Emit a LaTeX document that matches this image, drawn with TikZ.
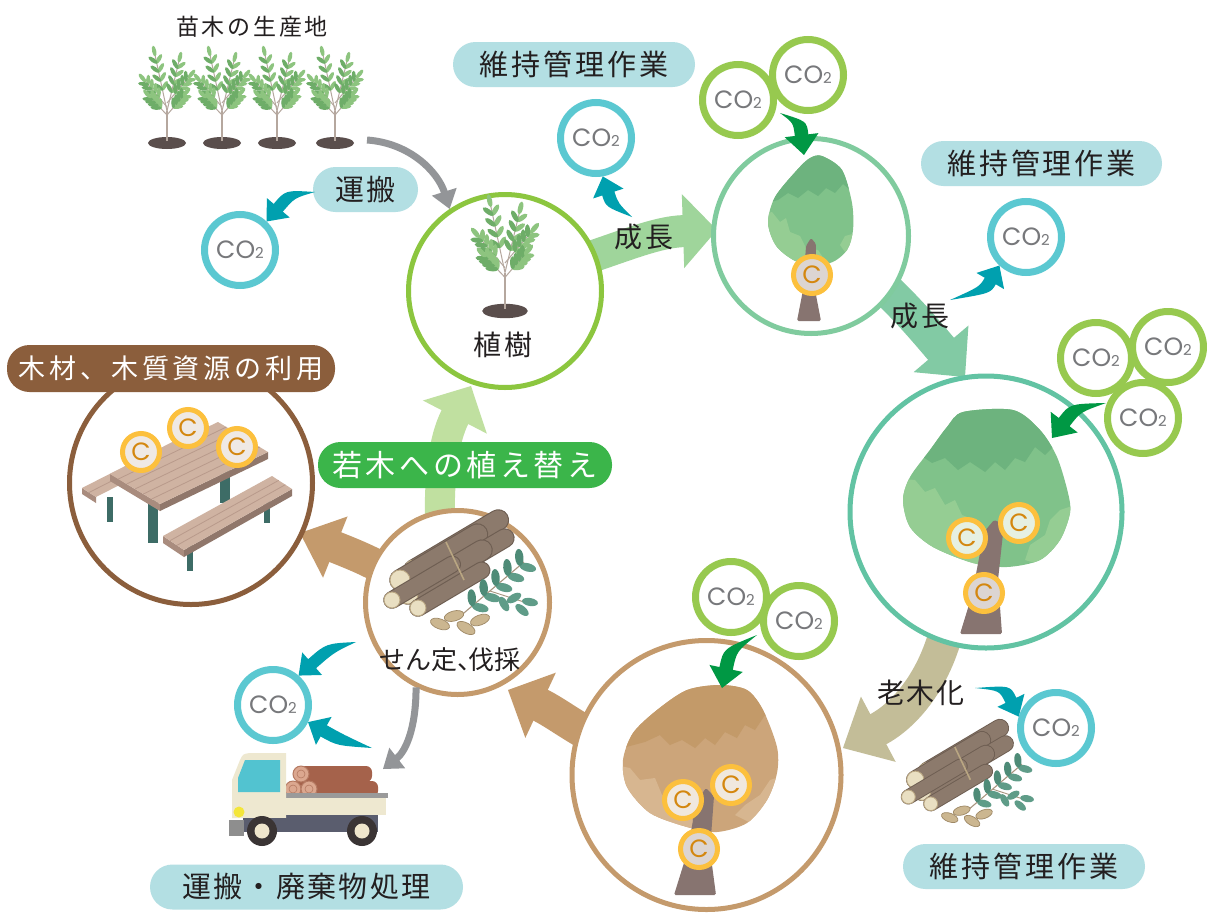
\documentclass[tikz,border=0pt]{standalone}
\usepackage{fontspec}
\newfontfamily\jp{Noto Sans CJK JP}
\newfontfamily\geo{Poppins}
\usetikzlibrary{arrows.meta,calc}

\definecolor{txt}{HTML}{231F20}
\definecolor{co2txt}{HTML}{77787B}
\definecolor{co2teal}{HTML}{5BC8D1}
\definecolor{co2green}{HTML}{97C94F}
\definecolor{arrteal}{HTML}{00A0AF}
\definecolor{arrgreen}{HTML}{009844}
\definecolor{arrgray}{HTML}{939598}
\definecolor{pillblue}{HTML}{B3DFE3}
\definecolor{pillgreen}{HTML}{3BB54A}
\definecolor{pillbrown}{HTML}{8B5E3C}
\definecolor{ringplant}{HTML}{8CC63F}
\definecolor{ringA}{HTML}{80CB9E}
\definecolor{ringB}{HTML}{62C3A3}
\definecolor{ringtan}{HTML}{C49A6C}
\definecolor{ringbench}{HTML}{8B5E3C}
\definecolor{flowA}{HTML}{9FD59B}
\definecolor{flowB}{HTML}{82CAA4}
\definecolor{flowold}{HTML}{C3BD98}
\definecolor{flowtan}{HTML}{C49A6C}
\definecolor{flowyoung}{HTML}{C0E0A0}
\definecolor{badgering}{HTML}{FCC03D}
\definecolor{badgec}{HTML}{D4870F}
\definecolor{trunk}{HTML}{877470}
\definecolor{canbase}{HTML}{80C28A}
\definecolor{cantop}{HTML}{6DB37E}
\definecolor{canlow}{HTML}{95CD93}
\definecolor{browncan}{HTML}{CCA57A}
\definecolor{browntop}{HTML}{C39A69}
\definecolor{brownlow}{HTML}{D7B690}
\definecolor{soil}{HTML}{5A4E4C}
\definecolor{stem}{HTML}{B5A79E}
\definecolor{leafa}{HTML}{8DC47F}
\definecolor{leafb}{HTML}{6EAD68}
\definecolor{bark}{HTML}{8C7A6C}
\definecolor{barkdark}{HTML}{6E5E52}
\definecolor{logend}{HTML}{E9DFC2}
\definecolor{logring}{HTML}{B9A682}
\definecolor{twig}{HTML}{A8957F}
\definecolor{twigleafa}{HTML}{5F9C88}
\definecolor{twigleafb}{HTML}{4E8B77}
\definecolor{nut}{HTML}{CBB690}
\definecolor{nutedge}{HTML}{9E8865}
\definecolor{planktop}{HTML}{CFB3A2}
\definecolor{plankline}{HTML}{B89A8B}
\definecolor{plankside}{HTML}{A98C7E}
\definecolor{leg}{HTML}{3D6C66}
\definecolor{truckcream}{HTML}{EEE8D0}
\definecolor{cabwindow}{HTML}{52C3D0}
\definecolor{slate}{HTML}{5A5D6E}
\definecolor{rail}{HTML}{9A9A9A}
\definecolor{logred}{HTML}{A5624B}
\definecolor{logredend}{HTML}{DBA78F}
\definecolor{logredring}{HTML}{B57A62}
\definecolor{tire}{HTML}{3A3434}
\definecolor{hub}{HTML}{EFE6CC}
\definecolor{headlamp}{HTML}{F4E63A}
\definecolor{bumper}{HTML}{8E8E8E}
\definecolor{onleaf}{HTML}{E6F0E2}
\definecolor{ontrunk}{HTML}{DCD5D2}
\definecolor{onbrown}{HTML}{F0E8DE}
\definecolor{onwood}{HTML}{EFE9E4}

% wide flow arrow: colour, start, control 1, control 2, tip, head length, head width, body width
\newcommand\flowarrow[8]{%
  \coordinate (fl-m) at ($(#5)!#6pt!(#4)$);
  \pgfmathsetmacro\flhw{#7/2}%
  \draw[#1, line width=#8pt, shorten >=-1pt] (#2) .. controls (#3) and (#4) .. (fl-m);
  \fill[#1] ($(fl-m)!\flhw pt!90:(#5)$) -- (#5) -- ($(fl-m)!\flhw pt!-90:(#5)$) -- cycle;
}
% tapered bent arrow: colour, tail, control, tip, head length, head width
\newcommand\puffarrow[6]{%
  \pgfmathsetmacro\pfhw{#6/2}%
  \pgfmathsetmacro\pfbw{#6*0.2}%
  \coordinate (pf-m) at ($(#4)!#5pt!(#3)$);
  \coordinate (pf-h1) at ($(pf-m)!\pfbw pt!90:(#4)$);
  \coordinate (pf-h2) at ($(pf-m)!\pfbw pt!-90:(#4)$);
  \coordinate (pf-w1) at ($(pf-m)!\pfhw pt!90:(#4)$);
  \coordinate (pf-w2) at ($(pf-m)!\pfhw pt!-90:(#4)$);
  \coordinate (pf-c1) at ($(#3)!\pfbw pt!90:(#4)$);
  \coordinate (pf-c2) at ($(#3)!\pfbw pt!-90:(#4)$);
  \fill[#1] (#2) .. controls (pf-c1) .. (pf-h1) -- (pf-w1) -- (#4) -- (pf-w2) -- (pf-h2) .. controls (pf-c2) .. (#2) -- cycle;
}

\newcommand\cotwo{CO{\fontsize{15}{15}\selectfont 2}}

\tikzset{
  ring/.style={circle, draw=#1, line width=5pt, fill=white, inner sep=0pt},
  co2/.style={circle, draw=#1, line width=7pt, fill=white, minimum size=71pt, inner sep=0pt,
    text=co2txt, font=\geo\fontsize{25}{25}\selectfont},
  badge/.style={circle, draw=badgering, line width=5pt, fill=#1, minimum size=37pt, inner sep=0pt,
    text=badgec, font=\geo\fontsize{25}{25}\selectfont},
  pill/.style={rounded corners=22.5pt, fill=#1, minimum height=45pt, inner sep=0pt, text=txt},
  lbl/.style={inner sep=0pt, text=txt},
  seedling/.pic={
    \fill[soil] (0,0) ellipse (19 and 6);
    \draw[stem, line width=1.8pt] (0,-2) -- (0,-32);
    \foreach \bx/\by/\tx/\ty in {0/-32/-12/-88, 0/-32/12/-82, 0/-36/-22/-62, 0/-40/22/-66, 0/-28/-17/-46, 0/-28/17/-48}{
      \draw[stem, line width=1pt] (\bx,\by) -- (\tx,\ty);
      \pgfmathsetmacro\ang{atan2(\ty-\by,\tx-\bx)}
      \foreach \pos in {0.38,0.54,0.7,0.86}{
        \foreach \sd/\col in {1/leafa,-1/leafb}{
          \pgfmathsetmacro\lang{\ang+\sd*42}
          \pgfmathsetmacro\qx{\bx+\pos*(\tx-\bx)+4.5*cos(\lang)}
          \pgfmathsetmacro\qy{\by+\pos*(\ty-\by)+4.5*sin(\lang)}
          \fill[\col, rotate around={-\lang:(\qx,\qy)}] (\qx,\qy) ellipse (5.5 and 2.1);
        }
      }
      \pgfmathsetmacro\qx{\tx+4*cos(\ang)}
      \pgfmathsetmacro\qy{\ty+4*sin(\ang)}
      \fill[leafa, rotate around={-\ang:(\qx,\qy)}] (\qx,\qy) ellipse (5.5 and 2.1);
    }
  },
  woodpile/.pic={
    \pgfmathsetmacro\wsc{#1}
    \foreach \lx/\ly/\rr/\llen in {-38/-8/10/98, -52/2/10/90, -28/8/9/94, -44/16/10/86, -60/22/8/70, -34/30/8/74}{
      \draw[barkdark, line cap=round, line width={(2*\rr+1.6)*\wsc}] (\lx,\ly) -- ++({0.86*\llen},{-0.51*\llen});
      \draw[bark, line cap=round, line width={(2*\rr-0.6)*\wsc}] (\lx,\ly) -- ++({0.86*\llen},{-0.51*\llen});
      \filldraw[fill=logend, draw=logring, line width=0.9pt] (\lx,\ly) circle (\rr);
    }
    \draw[logring, line width=1.6pt] (-6,-36) -- (12,2);
    \draw[twig, line width=1.1pt] (6,40) -- (72,-16);
    \draw[twig, line width=0.9pt] (38,13) -- (72,24);
    \foreach \pos in {0.22,0.4,0.58,0.76,0.94}{
      \foreach \sd/\col in {1/twigleafa,-1/twigleafb}{
        \pgfmathsetmacro\lang{-40.3+\sd*55}
        \pgfmathsetmacro\qx{6+\pos*66+8*cos(\lang)}
        \pgfmathsetmacro\qy{40-\pos*56+8*sin(\lang)}
        \fill[\col, rotate around={-\lang:(\qx,\qy)}] (\qx,\qy) ellipse (8.5 and 4.2);
      }
    }
    \foreach \qx/\qy/\lang in {52/26/60, 62/20/-30, 70/32/40, 78/24/10}{
      \fill[twigleafa, rotate around={-\lang:(\qx,\qy)}] (\qx,\qy) ellipse (8 and 4);
    }
    \foreach \nx/\ny/\na in {-12/46/-20, 2/38/15, 14/50/-30, 28/42/20}{
      \filldraw[fill=nut, draw=nutedge, line width=0.7pt, rotate around={\na:(\nx,\ny)}] (\nx,\ny) ellipse (10 and 5);
    }
  }
}

\begin{document}
\begin{tikzpicture}[x=1pt,y=-1pt]
\useasboundingbox (0,0) rectangle (1207,913);
\fill[white] (0,0) rectangle (1207,913);

% ---------- wide flow arrows of the cycle ----------
\coordinate (fA1) at (575,262); \coordinate (fA2) at (620,248);
\coordinate (fA3) at (655,232); \coordinate (fA4) at (717,230);
\flowarrow{flowA}{fA1}{fA2}{fA3}{fA4}{34}{74}{32}
\coordinate (fB1) at (870,275); \coordinate (fB2) at (900,300);
\coordinate (fB3) at (925,330); \coordinate (fB4) at (965,377);
\flowarrow{flowB}{fB1}{fB2}{fB3}{fB4}{37}{72}{34}
\coordinate (fC1) at (948,625); \coordinate (fC2) at (935,680);
\coordinate (fC3) at (905,715); \coordinate (fC4) at (843,748);
\flowarrow{flowold}{fC1}{fC2}{fC3}{fC4}{40}{74}{34}
\coordinate (fD1) at (600,740); \coordinate (fD2) at (575,728);
\coordinate (fD3) at (555,712); \coordinate (fD4) at (508,690);
\flowarrow{flowtan}{fD1}{fD2}{fD3}{fD4}{36}{72}{34}
\coordinate (fE1) at (385,570); \coordinate (fE2) at (368,560);
\coordinate (fE3) at (350,553); \coordinate (fE4) at (300,533);
\flowarrow{flowtan}{fE1}{fE2}{fE3}{fE4}{38}{66}{32}
\coordinate (fF1) at (440,520); \coordinate (fF2) at (439,480);
\coordinate (fF3) at (443,440); \coordinate (fF4) at (471,386);
\flowarrow{flowyoung}{fF1}{fF2}{fF3}{fF4}{35}{72}{30}

% ---------- stage circles ----------
\node[ring=ringplant, minimum size=193pt] (plant) at (505,291) {};
\node[ring=ringA, minimum size=195pt] (t1) at (811,236) {};
\node[ring=ringB, minimum size=272pt] (t2) at (986,512) {};
\node[ring=ringtan, minimum size=269pt] (t3) at (706.5,775) {};
\node[ring=ringtan, minimum size=184pt] (sentei) at (457.5,602.5) {};
\node[ring=ringbench, minimum size=243pt] (bench) at (191,483) {};

% ---------- seedlings ----------
\pic at (167,143) {seedling};
\pic at (222,143) {seedling};
\pic at (277,143) {seedling};
\pic at (335,143) {seedling};
\pic[scale=1.2] at (505,311) {seedling};

% ---------- young tree ----------
\begin{scope}
  \clip plot[smooth cycle] coordinates {(822,156) (842,170) (852,203) (853,230) (847,250) (830,263) (800,263) (777,247) (768,223) (775,197) (797,170) (810,158)};
  \fill[canbase] (760,150) rectangle (860,270);
  \fill[cantop] (760,150) -- (860,150) -- (860,186) -- (850,190) -- (843,184) -- (835,193) -- (826,188) -- (818,196) -- (808,190) -- (798,198) -- (788,193) -- (778,200) -- (760,205) -- cycle;
  \fill[canlow] (760,215) -- (772,212) -- (780,222) -- (786,218) -- (790,232) -- (800,236) -- (806,248) -- (818,250) -- (826,262) -- (835,268) -- (760,270) -- cycle;
  \fill[canlow] (860,232) -- (845,236) -- (840,245) -- (845,252) -- (860,258) -- cycle;
\end{scope}
\fill[trunk, rounded corners=1.5pt] (797,321) -- (803,290) -- (806,246) -- (811,238) -- (816,244) -- (815,290) -- (821,321) -- cycle;
\node[badge=ontrunk] (c1a) at (812,275) {C};

% ---------- grown tree ----------
\begin{scope}
  \clip plot[smooth cycle] coordinates {(963,412) (1013,410) (1040,430) (1057,457) (1068,493) (1070,513) (1060,540) (1040,560) (1007,567) (973,563) (933,547) (910,527) (903,500) (910,477) (930,450) (947,427)};
  \fill[canbase] (895,400) rectangle (1075,575);
  \fill[cantop] (895,400) -- (1075,400) -- (1075,452) -- (1062,455) -- (1055,445) -- (1045,455) -- (1035,447) -- (1025,462) -- (1015,458) -- (1005,470) -- (995,462) -- (985,472) -- (970,462) -- (958,470) -- (945,458) -- (932,463) -- (920,455) -- (895,470) -- cycle;
  \fill[canlow] (895,478) -- (915,480) -- (925,492) -- (935,488) -- (945,505) -- (955,500) -- (962,515) -- (975,520) -- (985,540) -- (990,575) -- (895,575) -- cycle;
  \fill[canlow] (1075,505) -- (1060,510) -- (1050,520) -- (1045,535) -- (1030,545) -- (1025,560) -- (1075,575) -- cycle;
\end{scope}
\fill[trunk, rounded corners=1.5pt] (960,634) -- (972,595) -- (984,532) -- (994,520) -- (1004,524) -- (998,580) -- (1002,634) -- cycle;
\node[badge=onleaf] (c2a) at (967,538) {C};
\node[badge=onleaf] (c2b) at (1019,523) {C};
\node[badge=ontrunk] (c2c) at (984,593) {C};

% ---------- old tree ----------
\begin{scope}
  \clip plot[smooth cycle] coordinates {(720,685) (747,690) (763,710) (777,747) (777,773) (767,800) (747,823) (717,832) (687,827) (650,813) (627,787) (623,760) (633,733) (657,710) (687,690)};
  \fill[browncan] (615,675) rectangle (785,840);
  \fill[browntop] (615,675) -- (785,675) -- (785,718) -- (772,722) -- (765,715) -- (755,730) -- (745,725) -- (737,738) -- (725,732) -- (715,745) -- (705,738) -- (695,748) -- (682,740) -- (670,745) -- (660,735) -- (645,742) -- (615,750) -- cycle;
  \fill[brownlow] (615,765) -- (630,768) -- (640,780) -- (655,778) -- (662,795) -- (675,800) -- (685,810) -- (700,830) -- (615,840) -- cycle;
  \fill[brownlow] (785,775) -- (770,780) -- (760,795) -- (745,805) -- (735,815) -- (785,840) -- cycle;
\end{scope}
\fill[trunk, rounded corners=1.5pt] (674,895) -- (688,850) -- (696,802) -- (706,788) -- (714,796) -- (710,850) -- (716,895) -- cycle;
\node[badge=onbrown] (c3a) at (683,800) {C};
\node[badge=onbrown] (c3b) at (731,785) {C};
\node[badge=ontrunk] (c3c) at (699,849) {C};

% ---------- pruned wood piles ----------
\pic at (452,578) {woodpile=1};
\pic[scale=0.86] at (960,778) {woodpile=0.86};

% ---------- picnic table ----------
\fill[leg] (107,497) rectangle (113,522);
\fill[plankside] (82,488) -- (96,497) -- (96,503) -- (82,494) -- cycle;
\fill[planktop] (82,488) -- (190,433) -- (204,442) -- (96,497) -- cycle;
\draw[plankline, line width=0.8pt] (89,492.5) -- (197,437.5);
\fill[leg] (220,460) rectangle (230,503);
\fill[leg] (148,500) rectangle (158,543);
\fill[plankside] (110,474) -- (160,504) -- (160,511) -- (110,481) -- cycle;
\fill[plankside!85!black] (160,504) -- (268,452) -- (268,459) -- (160,511) -- cycle;
\fill[planktop] (110,474) -- (218,422) -- (268,452) -- (160,504) -- cycle;
\foreach \k in {1,...,5}{
  \draw[plankline, line width=0.8pt] ($(110,474)!\k/6!(160,504)$) -- ($(218,422)!\k/6!(268,452)$);
}
\fill[leg] (187,545) rectangle (193,571);
\fill[leg] (264,488) rectangle (270,523);
\fill[plankside] (163,536) -- (184,550) -- (184,557) -- (163,543) -- cycle;
\fill[plankside!85!black] (184,550) -- (292,489) -- (292,496) -- (184,557) -- cycle;
\fill[planktop] (163,536) -- (272,476) -- (292,489) -- (184,550) -- cycle;
\foreach \k in {1,2}{
  \draw[plankline, line width=0.8pt] ($(163,536)!\k/3!(184,550)$) -- ($(272,476)!\k/3!(292,489)$);
}
\node[badge=onwood] (cw1) at (141,452) {C};
\node[badge=onwood] (cw2) at (188,428) {C};
\node[badge=onwood] (cw3) at (237,447) {C};

% ---------- truck ----------
\fill[logred, rounded corners=6pt] (298,766) rectangle (372,782);
\fill[logred, rounded corners=6pt] (288,781) rectangle (378,797);
\foreach \ex/\ey in {301/774, 293/789, 309/789}{
  \filldraw[fill=logredend, draw=logredring, line width=1pt] (\ex,\ey) circle (8);
  \draw[logredring, line width=0.6pt] (\ex,\ey) circle (4);
}
\fill[truckcream] (283,797) rectangle (386,815);
\fill[rail] (283,793) rectangle (388,798);
\fill[slate] (283,815) rectangle (378,832);
\fill[truckcream] (232,818) -- (232,780) -- (240,760) .. controls (243,754) .. (250,753) -- (286,753) -- (286,818) -- cycle;
\fill[cabwindow] (245,760) -- (280,760) -- (280,792) -- (238,792) -- (238,778) -- cycle;
\fill[slate] (243,818) rectangle (286,832);
\fill[headlamp] (239,812) circle (5.5);
\fill[bumper] (229,820) rectangle (244,836);
\foreach \wx in {262,362}{
  \fill[tire] (\wx,831) circle (15);
  \fill[hub] (\wx,831) circle (7.5);
}

% ---------- CO2 circles ----------
\node[co2=co2teal] (co2A) at (240,250) {\cotwo};
\node[co2=co2teal] (co2B) at (596,138) {\cotwo};
\node[co2=co2teal] (co2C) at (1026,237) {\cotwo};
\node[co2=co2teal] (co2D) at (1056,728) {\cotwo};
\node[co2=co2teal] (co2E) at (273,705) {\cotwo};
\node[co2=co2green] (g1) at (738,100) {\cotwo};
\node[co2=co2green] (g2) at (808,75) {\cotwo};
\node[co2=co2green] (g3) at (1096,358) {\cotwo};
\node[co2=co2green] (g4) at (1168,347) {\cotwo};
\node[co2=co2green] (g5) at (1143,418) {\cotwo};
\node[co2=co2green] (g6) at (731,597) {\cotwo};
\node[co2=co2green] (g7) at (799,621) {\cotwo};

% ---------- labels in pills ----------
\node[pill=pillblue, minimum width=105pt, font=\jp\fontsize{29}{29}\selectfont\addfontfeature{LetterSpace=10}] (unpan) at (365.5,189.5) {運搬};
\node[pill=pillblue, minimum width=242pt, font=\jp\fontsize{29}{29}\selectfont\addfontfeature{LetterSpace=10}] (ijiA) at (574,64.5) {維持管理作業};
\node[pill=pillblue, minimum width=241pt, font=\jp\fontsize{29}{29}\selectfont\addfontfeature{LetterSpace=10}] (ijiB) at (1041.5,163.5) {維持管理作業};
\node[pill=pillblue, minimum width=242pt, font=\jp\fontsize{29}{29}\selectfont\addfontfeature{LetterSpace=10}] (ijiC) at (1024,866.5) {維持管理作業};
\node[pill=pillblue, minimum width=313pt, font=\jp\fontsize{29}{29}\selectfont\addfontfeature{LetterSpace=8}] (haiki) at (306.5,887) {運搬・廃棄物処理};
\node[pill=pillgreen, minimum width=294pt, minimum height=46pt, text=white, font=\jp\fontsize{30}{30}\selectfont\addfontfeature{LetterSpace=12}] (wakagi) at (465,465) {若木への植え替え};
\node[pill=pillbrown, minimum width=328pt, minimum height=47pt, text=white, font=\jp\fontsize{27}{27}\selectfont\addfontfeature{LetterSpace=14}] (mokuzai) at (171,368.5) {木材、木質資源の利用};

% ---------- small arrows ----------
\coordinate (tA) at (315,192); \coordinate (cA) at (290,194);
\puffarrow{arrteal}{tA}{cA}{co2A.47}{18}{30}
\coordinate (tB) at (632,217); \coordinate (cB) at (612,205);
\puffarrow{arrteal}{tB}{cB}{co2B.-80}{18}{32}
\coordinate (tC) at (950,300); \coordinate (cC) at (985,290);
\puffarrow{arrteal}{tC}{cC}{co2C.227}{18}{32}
\coordinate (tD) at (975,688); \coordinate (cD) at (1005,688);
\puffarrow{arrteal}{tD}{cD}{co2D.163}{18}{30}
\coordinate (tE) at (356,642); \coordinate (cE) at (330,648);
\puffarrow{arrteal}{tE}{cE}{co2E.49}{18}{30}
\coordinate (tF) at (372,748); \coordinate (cF) at (340,740);
\puffarrow{arrteal}{tF}{cF}{co2E.-26}{18}{32}
\coordinate (tG) at (780,113); \coordinate (cG) at (800,122); \coordinate (pG) at (804,155);
\puffarrow{arrgreen}{tG}{cG}{pG}{20}{34}
\coordinate (tH) at (1106,403); \coordinate (cH) at (1075,408); \coordinate (pH) at (1052,438);
\puffarrow{arrgreen}{tH}{cH}{pH}{20}{34}
\coordinate (tI) at (757,635); \coordinate (cI) at (730,650); \coordinate (pI) at (722,688);
\puffarrow{arrgreen}{tI}{cI}{pI}{20}{34}

% grey transport arrows
\coordinate (gA1) at (367,140); \coordinate (gA2) at (410,143); \coordinate (gA3) at (438,172);
\flowarrow{arrgray}{gA1}{gA2}{gA3}{plant.124}{18}{26}{7}
\coordinate (gB2) at (416,730); \coordinate (gB3) at (405,752); \coordinate (gB4) at (383,769);
\flowarrow{arrgray}{sentei.244}{gB2}{gB3}{gB4}{18}{26}{7}

% ---------- free labels ----------
\node[lbl, font=\jp\fontsize{23}{23}\selectfont\addfontfeature{LetterSpace=12}] (field) at (252,27) {苗木の生産地};
\node[lbl, font=\jp\fontsize{28}{28}\selectfont\addfontfeature{LetterSpace=8}] (shoku) at (503,345) {植樹};
\node[lbl, font=\jp\fontsize{28}{28}\selectfont\addfontfeature{LetterSpace=8}] (grow1) at (644,237) {成長};
\node[lbl, font=\jp\fontsize{28}{28}\selectfont\addfontfeature{LetterSpace=8}] (grow2) at (920,316) {成長};
\node[lbl, font=\jp\fontsize{28}{28}\selectfont\addfontfeature{LetterSpace=6}] (aging) at (921,693) {老木化};
\node[lbl, font=\jp\fontsize{26}{26}\selectfont] (prune) at (450,660) {せん定、\hspace{-0.55em}伐採};
\end{tikzpicture}
\end{document}
